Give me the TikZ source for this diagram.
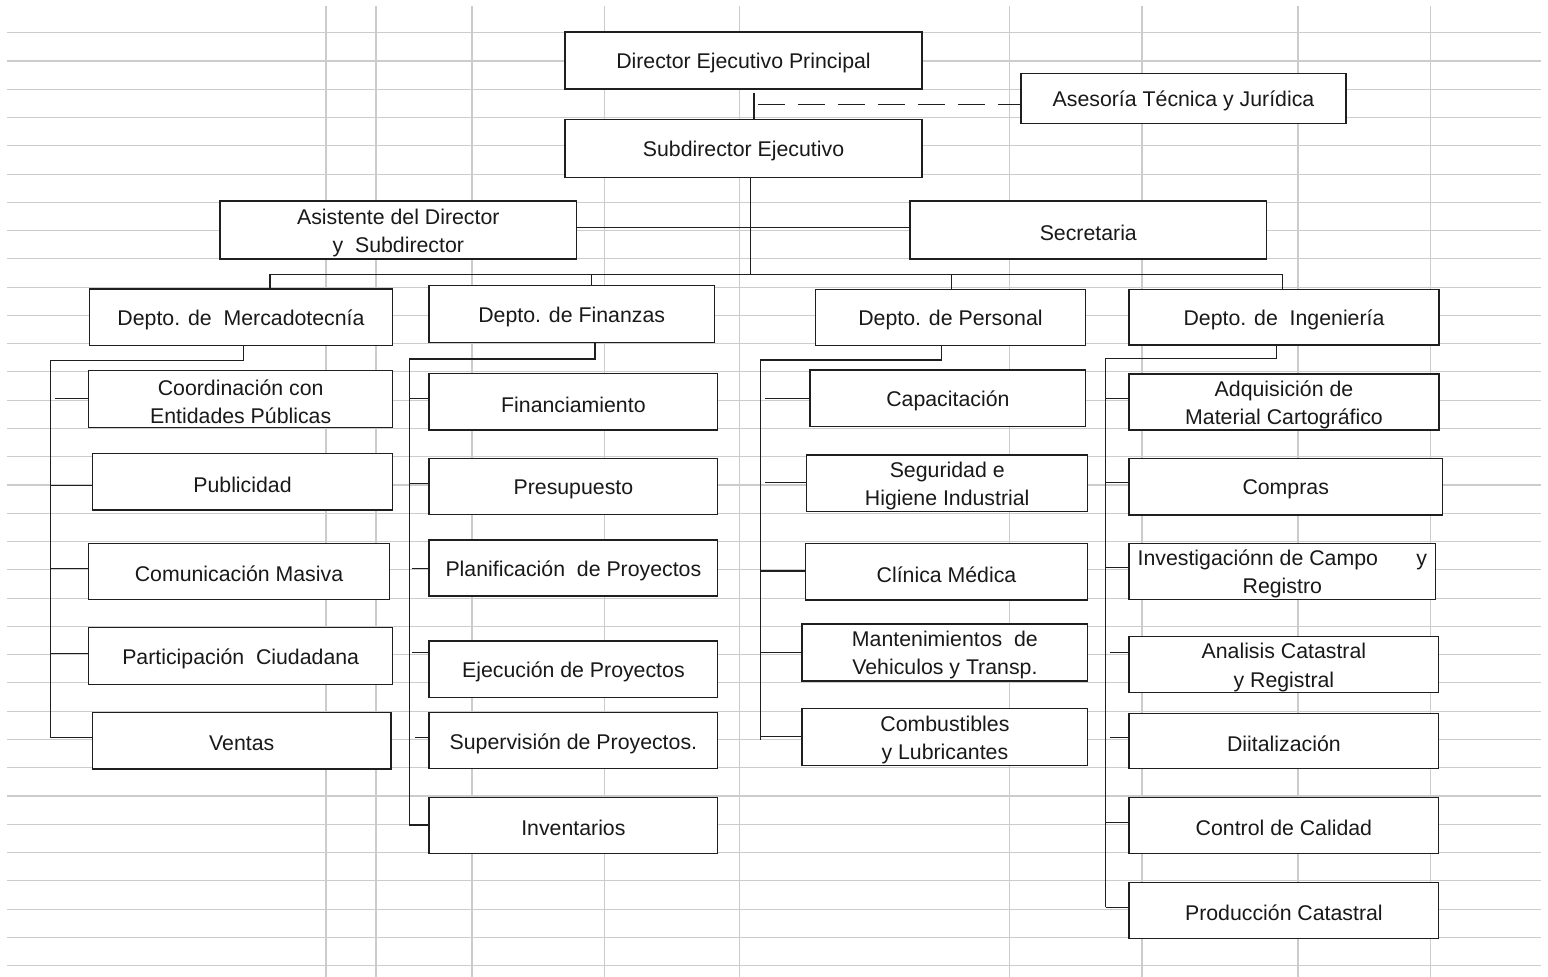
\documentclass[tikz,border=0pt]{standalone}
\usepackage{fontspec}
\setmainfont{Liberation Sans}
\begin{document}
\begin{tikzpicture}[x=1pt,y=-1pt,
  gridline/.style={draw=black!20, line width=1.1pt},
  bx/.style={draw=black!88, fill=white, line width=1.4pt, inner sep=0pt},
  txt/.style={inner sep=0pt, align=center, yshift=-2.7pt,
    font=\fontsize{21.3}{28.3}\selectfont, text=black!90},
  ln/.style={draw=black!88, line width=1.4pt},
  dsh/.style={ln, dash pattern=on 26.7pt off 13.3pt}]
\useasboundingbox (0,0) rectangle (1548,977);
\fill[white] (0,0) rectangle (1548,977);
% spreadsheet grid
\foreach \k [evaluate=\k as \yy using 32.7+28.27*\k] in {0,...,33}
  \draw[gridline] (7,\yy) -- (1541,\yy);
\foreach \xx in {326,376,472,604.7,739.3,1009.3,1142,1298,1430.7}
  \draw[gridline] (\xx,6) -- (\xx,977);
\newcommand{\bxn}[6]{\node[bx, minimum width=#4pt, minimum height=#5pt,
  label={[txt]center:{#6}}] (#1) at (#2,#3) {};}
% top
\bxn{dir}{743.5}{60.5}{357}{57}{Director Ejecutivo Principal}
\bxn{sub}{743.5}{148.3}{357}{58}{Subdirector Ejecutivo}
\bxn{ases}{1183.5}{98.3}{325}{50}{Asesoría Técnica y Jurídica}
\bxn{asis}{398.3}{230}{356.7}{58}{Asistente del Director\\y\ \ Subdirector}
\bxn{sec}{1088.3}{230}{356.7}{58}{Secretaria}
% departments
\bxn{merc}{241}{317.3}{303.4}{56.7}{Depto. de\ \ Mercadotecnía}
\bxn{fin}{571.7}{314.2}{285.3}{57}{Depto. de Finanzas}
\bxn{pers}{950.5}{317.3}{270.4}{56}{Depto. de Personal}
\bxn{ing}{1284}{317.2}{310}{55.7}{Depto. de\ \ Ingeniería}
% Mercadotecnia
\bxn{coord}{240.7}{399}{304}{56.6}{Coordinación con\\Entidades Públicas}
\bxn{pub}{242.5}{481.9}{300.4}{56.3}{Publicidad}
\bxn{com}{239}{571.3}{300.6}{56}{Comunicación Masiva}
\bxn{part}{240.7}{656}{304}{56.6}{Participación\ \ Ciudadana}
\bxn{vent}{241.7}{740.7}{298.7}{56.7}{Ventas}
% Finanzas
\bxn{finan}{573.4}{401.7}{288.7}{56.7}{Financiamiento}
\bxn{pres}{573.4}{486.3}{288.7}{56}{Presupuesto}
\bxn{plan}{573.4}{568}{288.7}{56}{Planificación\ \ de Proyectos}
\bxn{ejec}{573.4}{669.2}{288.7}{56.3}{Ejecución de Proyectos}
\bxn{superv}{573.4}{740.7}{288.7}{56}{Supervisión de Proyectos.}
\bxn{inv}{573.4}{825.3}{288.7}{56}{Inventarios}
% Personal
\bxn{cap}{947.9}{398.3}{275.7}{56.7}{Capacitación}
\bxn{seg}{947.2}{483.2}{281}{56.3}{Seguridad e\\Higiene Industrial}
\bxn{clin}{946.5}{571.7}{282.4}{56.7}{Clínica Médica}
\bxn{mant}{944.9}{652.5}{285.7}{57}{Mantenimientos\ \ de\\Vehiculos y Transp.}
\bxn{comb}{944.9}{737.2}{285.7}{57}{Combustibles\\y Lubricantes}
% Ingenieria
\bxn{adq}{1284}{402}{310}{56}{Adquisición de\\Material Cartográfico}
\bxn{comp}{1285.7}{486.7}{313.3}{56.7}{Compras}
\bxn{inv2}{1282.3}{571.3}{306.7}{56}{Investigaciónn de Campo\hspace{1.8em}y\\Registro}
\bxn{anal}{1283.9}{664.7}{309.7}{56}{Analisis Catastral\\y Registral}
\bxn{diit}{1283.9}{741}{309.7}{55.4}{Diitalización}
\bxn{ctrl}{1283.9}{825.5}{309.7}{55.6}{Control de Calidad}
\bxn{prod}{1283.9}{910.5}{309.7}{55.6}{Producción Catastral}
% top connectors
\coordinate (dv) at (754,92.7);
\draw[ln] (dv) -- (dv |- sub.north);
\coordinate (dd) at (758,104.3);
\draw[dsh] (dd) -- (dd -| ases.west);
\coordinate (bs) at (750.7,274.3);
\draw[ln] (bs |- sub.south) -- (bs);
\draw[ln] ([yshift=2.3pt]asis.east) -- ([yshift=2.3pt]sec.west);
\coordinate (b1) at (270,274.3);
\coordinate (b2) at (591.3,274.3);
\coordinate (b3) at (951.7,274.3);
\coordinate (b4) at (1282.3,274.3);
\draw[ln] (b1) -- (b4);
\draw[ln] (b1) -- (b1 |- merc.north);
\draw[ln] (b2) -- (b2 |- fin.north);
\draw[ln] (b3) -- (b3 |- pers.north);
\draw[ln] (b4) -- (b4 |- ing.north);
% department trunks
\coordinate (md) at (243.3,360.7); \coordinate (mt) at (50.7,360.7); \coordinate (mb) at (50.7,737.7);
\draw[ln] (md |- merc.south) -- (md) -- (mt) -- (mb);
\coordinate (fd) at (595,359); \coordinate (ft) at (409.3,359); \coordinate (fb) at (409.3,825);
\draw[ln] (fd |- fin.south) -- (fd) -- (ft) -- (fb);
\coordinate (pd) at (941.3,360); \coordinate (pt) at (760.7,360); \coordinate (pb) at (760.7,740);
\draw[ln] (pd |- pers.south) -- (pd) -- (pt) -- (pb);
\coordinate (id) at (1276.7,358.7); \coordinate (it) at (1105.7,358.7); \coordinate (ib) at (1105.7,907.3);
\draw[ln] (id |- ing.south) -- (id) -- (it) -- (ib);
% stubs
\foreach \sx/\sy/\n in {55/398.7/coord, 50.7/485.3/pub, 50.7/568.3/com, 50.7/653.3/part, 50.7/737.7/vent,
  409.3/398.7/finan, 409.3/483.3/pres, 411.7/568.3/plan, 411.7/652.7/ejec, 415/737.7/superv, 409.3/825/inv,
  765/398.3/cap, 765/482.7/seg, 760.7/571/clin, 760.7/652.7/mant, 760.7/736.7/comb,
  1105.7/398.3/adq, 1105.7/482.7/comp, 1105.7/567.7/inv2, 1110/652.7/anal, 1110/737.3/diit, 1105.7/822.3/ctrl, 1105.7/907.3/prod}
{
  \coordinate (s) at (\sx,\sy);
  \draw[ln] (s) -- (s -| \n.west);
}
\end{tikzpicture}
\end{document}
